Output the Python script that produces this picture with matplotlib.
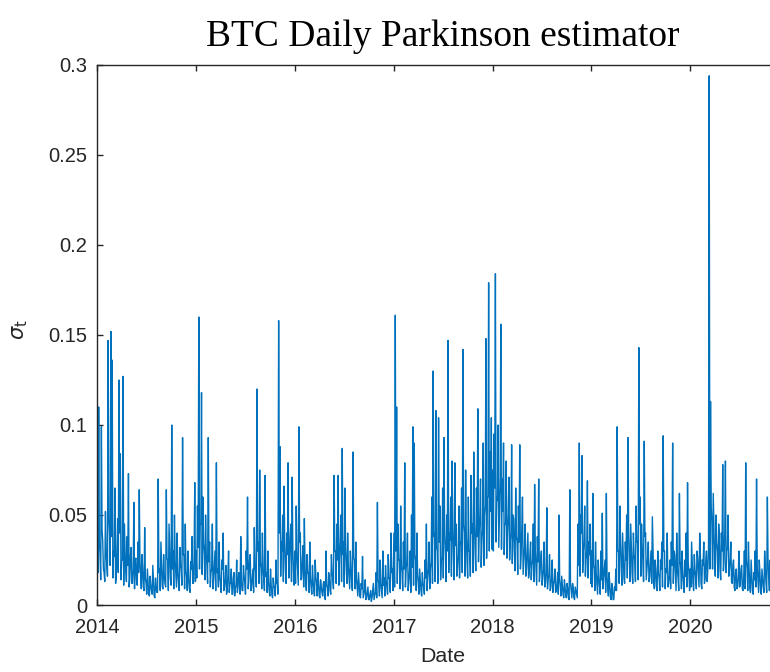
import matplotlib
matplotlib.use("Agg")
import matplotlib.pyplot as plt
import matplotlib.dates as mdates
import numpy as np
import pandas as pd

plt.rcParams["font.family"] = ["Liberation Sans", "DejaVu Sans"]

# Parkinson volatility, one reading every 5 days, per calendar year
sigma_2014 = [0.045, 0.110, 0.028, 0.099, 0.035, 0.018, 0.052, 0.022, 0.147, 0.040,
              0.152, 0.136, 0.030, 0.065, 0.016, 0.048, 0.125, 0.084, 0.025, 0.127,
              0.045, 0.020, 0.038, 0.073, 0.015, 0.032, 0.012, 0.057, 0.025, 0.014,
              0.035, 0.064, 0.018, 0.028, 0.010, 0.043, 0.012, 0.020, 0.006, 0.016,
              0.008, 0.022, 0.005, 0.015, 0.007, 0.070, 0.020, 0.035, 0.010, 0.028,
              0.012, 0.064, 0.025, 0.045, 0.015, 0.100, 0.030, 0.050, 0.018, 0.040,
              0.012, 0.032, 0.020, 0.093, 0.028, 0.045, 0.015, 0.030, 0.009, 0.024,
              0.038, 0.012, 0.068]
sigma_2015 = [0.030, 0.055, 0.160, 0.045, 0.118, 0.060, 0.028, 0.050, 0.022, 0.093,
              0.035, 0.018, 0.045, 0.015, 0.030, 0.079, 0.020, 0.035, 0.012, 0.025,
              0.040, 0.010, 0.022, 0.008, 0.030, 0.012, 0.020, 0.006, 0.018, 0.009,
              0.025, 0.010, 0.016, 0.038, 0.008, 0.022, 0.012, 0.030, 0.060, 0.014,
              0.028, 0.010, 0.020, 0.043, 0.018, 0.120, 0.035, 0.075, 0.020, 0.040,
              0.015, 0.072, 0.018, 0.030, 0.008, 0.020, 0.006, 0.015, 0.010, 0.025,
              0.012, 0.158, 0.088, 0.035, 0.050, 0.066, 0.020, 0.040, 0.079, 0.025,
              0.045, 0.071, 0.018]
sigma_2016 = [0.030, 0.055, 0.020, 0.099, 0.040, 0.015, 0.033, 0.048, 0.012, 0.028,
              0.018, 0.035, 0.010, 0.022, 0.008, 0.025, 0.012, 0.018, 0.005, 0.014,
              0.007, 0.012, 0.004, 0.030, 0.010, 0.018, 0.008, 0.028, 0.015, 0.072,
              0.030, 0.045, 0.072, 0.025, 0.050, 0.087, 0.035, 0.065, 0.020, 0.040,
              0.015, 0.030, 0.012, 0.085, 0.025, 0.035, 0.010, 0.018, 0.005, 0.012,
              0.027, 0.006, 0.014, 0.004, 0.010, 0.003, 0.008, 0.004, 0.012, 0.005,
              0.018, 0.057, 0.012, 0.025, 0.008, 0.030, 0.015, 0.022, 0.010, 0.028,
              0.015, 0.040, 0.020]
sigma_2017 = [0.040, 0.161, 0.110, 0.045, 0.025, 0.055, 0.018, 0.035, 0.079, 0.020,
              0.040, 0.012, 0.030, 0.050, 0.099, 0.090, 0.025, 0.040, 0.012, 0.020,
              0.008, 0.018, 0.010, 0.025, 0.045, 0.015, 0.035, 0.020, 0.060, 0.130,
              0.040, 0.108, 0.030, 0.104, 0.055, 0.025, 0.065, 0.093, 0.030, 0.050,
              0.147, 0.040, 0.060, 0.080, 0.025, 0.079, 0.045, 0.020, 0.055, 0.035,
              0.065, 0.142, 0.040, 0.075, 0.025, 0.060, 0.030, 0.072, 0.045, 0.085,
              0.030, 0.065, 0.109, 0.040, 0.070, 0.035, 0.090, 0.050, 0.148, 0.060,
              0.179, 0.085, 0.104]
sigma_2018 = [0.075, 0.095, 0.184, 0.060, 0.100, 0.050, 0.156, 0.070, 0.090, 0.045,
              0.080, 0.040, 0.071, 0.035, 0.089, 0.050, 0.030, 0.065, 0.035, 0.055,
              0.089, 0.028, 0.060, 0.025, 0.045, 0.020, 0.040, 0.018, 0.035, 0.022,
              0.045, 0.067, 0.020, 0.038, 0.070, 0.018, 0.030, 0.015, 0.035, 0.012,
              0.054, 0.015, 0.028, 0.010, 0.025, 0.012, 0.020, 0.008, 0.018, 0.050,
              0.010, 0.016, 0.006, 0.014, 0.005, 0.012, 0.004, 0.064, 0.008, 0.012,
              0.004, 0.010, 0.006, 0.045, 0.090, 0.050, 0.083, 0.030, 0.055, 0.025,
              0.069, 0.035, 0.045]
sigma_2019 = [0.030, 0.062, 0.020, 0.035, 0.012, 0.025, 0.010, 0.030, 0.051, 0.015,
              0.025, 0.062, 0.010, 0.018, 0.004, 0.012, 0.003, 0.010, 0.020, 0.099,
              0.030, 0.055, 0.020, 0.040, 0.015, 0.035, 0.050, 0.093, 0.025, 0.045,
              0.018, 0.040, 0.025, 0.055, 0.035, 0.143, 0.060, 0.045, 0.025, 0.091,
              0.040, 0.020, 0.035, 0.015, 0.030, 0.049, 0.012, 0.025, 0.010, 0.030,
              0.015, 0.025, 0.035, 0.094, 0.030, 0.020, 0.040, 0.012, 0.025, 0.035,
              0.090, 0.030, 0.018, 0.040, 0.015, 0.062, 0.020, 0.030, 0.012, 0.025,
              0.040, 0.068, 0.018]
sigma_2020 = [0.020, 0.035, 0.012, 0.028, 0.015, 0.030, 0.018, 0.040, 0.012, 0.025,
              0.035, 0.015, 0.030, 0.020, 0.294, 0.113, 0.045, 0.062, 0.025, 0.050,
              0.030, 0.045, 0.020, 0.040, 0.078, 0.025, 0.080, 0.030, 0.050, 0.020,
              0.035, 0.012, 0.025, 0.008, 0.020, 0.010, 0.030, 0.012, 0.022, 0.008,
              0.030, 0.079, 0.020, 0.035, 0.010, 0.025, 0.008, 0.018, 0.030, 0.070,
              0.015, 0.025, 0.008, 0.020, 0.010, 0.030, 0.012, 0.060, 0.015, 0.025,
              0.010, 0.020, 0.035]

# in-between readings, 2.5 days after each of the above
mid_2014 = [0.018, 0.035, 0.014, 0.042, 0.020, 0.013, 0.030, 0.016, 0.048, 0.022,
            0.038, 0.015, 0.027, 0.012, 0.033, 0.018, 0.040, 0.014, 0.025, 0.011,
            0.030, 0.013, 0.022, 0.010, 0.028, 0.012, 0.020, 0.009, 0.026, 0.011,
            0.018, 0.024, 0.009, 0.020, 0.008, 0.015, 0.006, 0.013, 0.005, 0.011,
            0.006, 0.014, 0.004, 0.010, 0.007, 0.018, 0.008, 0.022, 0.009, 0.016,
            0.010, 0.026, 0.008, 0.030, 0.011, 0.020, 0.009, 0.025, 0.010, 0.018,
            0.008, 0.022, 0.011, 0.028, 0.009, 0.019, 0.008, 0.015, 0.007, 0.020,
            0.012, 0.024, 0.013]
mid_2015 = [0.015, 0.032, 0.020, 0.045, 0.017, 0.035, 0.014, 0.028, 0.012, 0.024,
            0.010, 0.020, 0.009, 0.022, 0.008, 0.018, 0.010, 0.016, 0.007, 0.020,
            0.008, 0.014, 0.006, 0.017, 0.007, 0.012, 0.006, 0.015, 0.005, 0.011,
            0.007, 0.018, 0.006, 0.013, 0.008, 0.016, 0.006, 0.020, 0.009, 0.025,
            0.008, 0.015, 0.007, 0.022, 0.010, 0.030, 0.012, 0.024, 0.009, 0.020,
            0.008, 0.016, 0.007, 0.013, 0.005, 0.011, 0.004, 0.010, 0.005, 0.012,
            0.006, 0.040, 0.016, 0.030, 0.013, 0.035, 0.012, 0.028, 0.015, 0.038,
            0.013, 0.030, 0.011]
mid_2016 = [0.012, 0.028, 0.011, 0.035, 0.014, 0.025, 0.010, 0.022, 0.008, 0.018,
            0.007, 0.015, 0.006, 0.013, 0.005, 0.016, 0.005, 0.012, 0.004, 0.010,
            0.005, 0.013, 0.003, 0.011, 0.005, 0.014, 0.006, 0.018, 0.009, 0.030,
            0.012, 0.025, 0.011, 0.035, 0.013, 0.028, 0.010, 0.032, 0.012, 0.022,
            0.009, 0.020, 0.008, 0.026, 0.009, 0.015, 0.005, 0.011, 0.004, 0.009,
            0.004, 0.008, 0.003, 0.007, 0.003, 0.006, 0.002, 0.008, 0.003, 0.007,
            0.004, 0.014, 0.005, 0.012, 0.004, 0.011, 0.005, 0.013, 0.006, 0.015,
            0.007, 0.018, 0.008]
mid_2017 = [0.010, 0.030, 0.012, 0.025, 0.009, 0.022, 0.008, 0.020, 0.010, 0.024,
            0.008, 0.018, 0.007, 0.021, 0.011, 0.028, 0.008, 0.017, 0.006, 0.014,
            0.005, 0.012, 0.006, 0.015, 0.008, 0.020, 0.009, 0.024, 0.012, 0.038,
            0.013, 0.032, 0.012, 0.035, 0.014, 0.026, 0.015, 0.040, 0.013, 0.030,
            0.018, 0.036, 0.016, 0.042, 0.014, 0.033, 0.016, 0.028, 0.015, 0.034,
            0.018, 0.045, 0.016, 0.038, 0.015, 0.030, 0.016, 0.040, 0.018, 0.045,
            0.019, 0.038, 0.024, 0.050, 0.021, 0.042, 0.022, 0.055, 0.026, 0.060,
            0.030, 0.052, 0.031]
mid_2018 = [0.030, 0.065, 0.035, 0.058, 0.032, 0.070, 0.031, 0.052, 0.028, 0.045,
            0.026, 0.050, 0.025, 0.040, 0.023, 0.048, 0.019, 0.038, 0.017, 0.035,
            0.020, 0.042, 0.017, 0.032, 0.016, 0.030, 0.015, 0.028, 0.014, 0.025,
            0.013, 0.030, 0.011, 0.024, 0.013, 0.026, 0.011, 0.020, 0.010, 0.018,
            0.009, 0.016, 0.008, 0.015, 0.007, 0.013, 0.007, 0.012, 0.006, 0.014,
            0.005, 0.011, 0.004, 0.010, 0.004, 0.009, 0.003, 0.012, 0.004, 0.010,
            0.003, 0.008, 0.004, 0.022, 0.016, 0.040, 0.018, 0.035, 0.016, 0.030,
            0.015, 0.028, 0.012]
mid_2019 = [0.010, 0.022, 0.008, 0.018, 0.006, 0.015, 0.006, 0.014, 0.009, 0.020,
            0.007, 0.016, 0.005, 0.012, 0.003, 0.009, 0.003, 0.008, 0.008, 0.030,
            0.012, 0.035, 0.011, 0.028, 0.012, 0.025, 0.015, 0.040, 0.013, 0.032,
            0.012, 0.028, 0.013, 0.035, 0.014, 0.045, 0.016, 0.032, 0.013, 0.038,
            0.014, 0.026, 0.013, 0.022, 0.012, 0.030, 0.009, 0.020, 0.008, 0.018,
            0.008, 0.020, 0.010, 0.030, 0.009, 0.018, 0.010, 0.016, 0.009, 0.022,
            0.012, 0.028, 0.008, 0.020, 0.008, 0.025, 0.009, 0.018, 0.007, 0.016,
            0.010, 0.024, 0.008]
mid_2020 = [0.010, 0.024, 0.008, 0.020, 0.009, 0.026, 0.010, 0.028, 0.009, 0.022,
            0.012, 0.025, 0.013, 0.030, 0.020, 0.055, 0.020, 0.042, 0.016, 0.035,
            0.015, 0.038, 0.014, 0.030, 0.019, 0.040, 0.018, 0.032, 0.016, 0.025,
            0.013, 0.022, 0.010, 0.018, 0.009, 0.016, 0.010, 0.020, 0.009, 0.015,
            0.009, 0.025, 0.008, 0.020, 0.007, 0.016, 0.006, 0.014, 0.010, 0.022,
            0.007, 0.018, 0.006, 0.015, 0.007, 0.020, 0.007, 0.024, 0.008, 0.018,
            0.006, 0.015, 0.009]

years = [2014, 2015, 2016, 2017, 2018, 2019, 2020]
yearly = [sigma_2014, sigma_2015, sigma_2016, sigma_2017, sigma_2018, sigma_2019, sigma_2020]
yearly_mid = [mid_2014, mid_2015, mid_2016, mid_2017, mid_2018, mid_2019, mid_2020]
ytick_vals = [0, 0.05, 0.1, 0.15, 0.2, 0.25, 0.3]
ytick_labels = ["0", "0.05", "0.1", "0.15", "0.2", "0.25", "0.3"]

parts = []
for yr, vals, mids in zip(years, yearly, yearly_mid):
    d = pd.date_range(f"{yr}-01-01", periods=len(vals), freq="5D")
    parts.append(pd.Series(vals, index=d))
    parts.append(pd.Series(mids, index=d[:len(mids)] + pd.Timedelta(hours=60)))
series = pd.concat(parts).sort_index()

axis_col = "#262626"
fig = plt.figure(figsize=(7.7, 6.72), dpi=100)
# axes run on past the right edge of the figure, so the frame is cut there
ax = fig.add_axes([0.1264, 0.0997, 0.8983, 0.8036])

ax.plot(series.index, series.values, color="#0072BD", lw=1.0)

ax.set_xlim(pd.Timestamp("2014-01-01"), pd.Timestamp("2020-12-31"))
ax.set_ylim(0, 0.3)
ax.xaxis.set_major_locator(mdates.YearLocator())
ax.xaxis.set_major_formatter(mdates.DateFormatter("%Y"))
ax.set_yticks(ytick_vals)
ax.set_yticklabels(ytick_labels)

for s in ax.spines.values():
    s.set_color(axis_col)
    s.set_linewidth(1.0)
ax.tick_params(direction="in", length=4.5, width=1.0, color=axis_col,
               labelcolor=axis_col, labelsize=14.5, top=True, right=True)
ax.tick_params(axis="x", pad=9)
ax.tick_params(axis="y", pad=7)

ax.set_xlabel("Date", fontsize=15.4, color=axis_col)
ax.xaxis.set_label_coords(0.5, -0.078)
ax.set_ylabel(r"$\sigma_{\rm t}$", fontsize=15, color=axis_col)
ax.yaxis.set_label_coords(-0.097, 0.51)

ax.set_title("BTC Daily Parkinson estimator", family="Liberation Serif",
             fontsize=27, color="black", pad=13.5)

fig.savefig("out.png", dpi=100)
